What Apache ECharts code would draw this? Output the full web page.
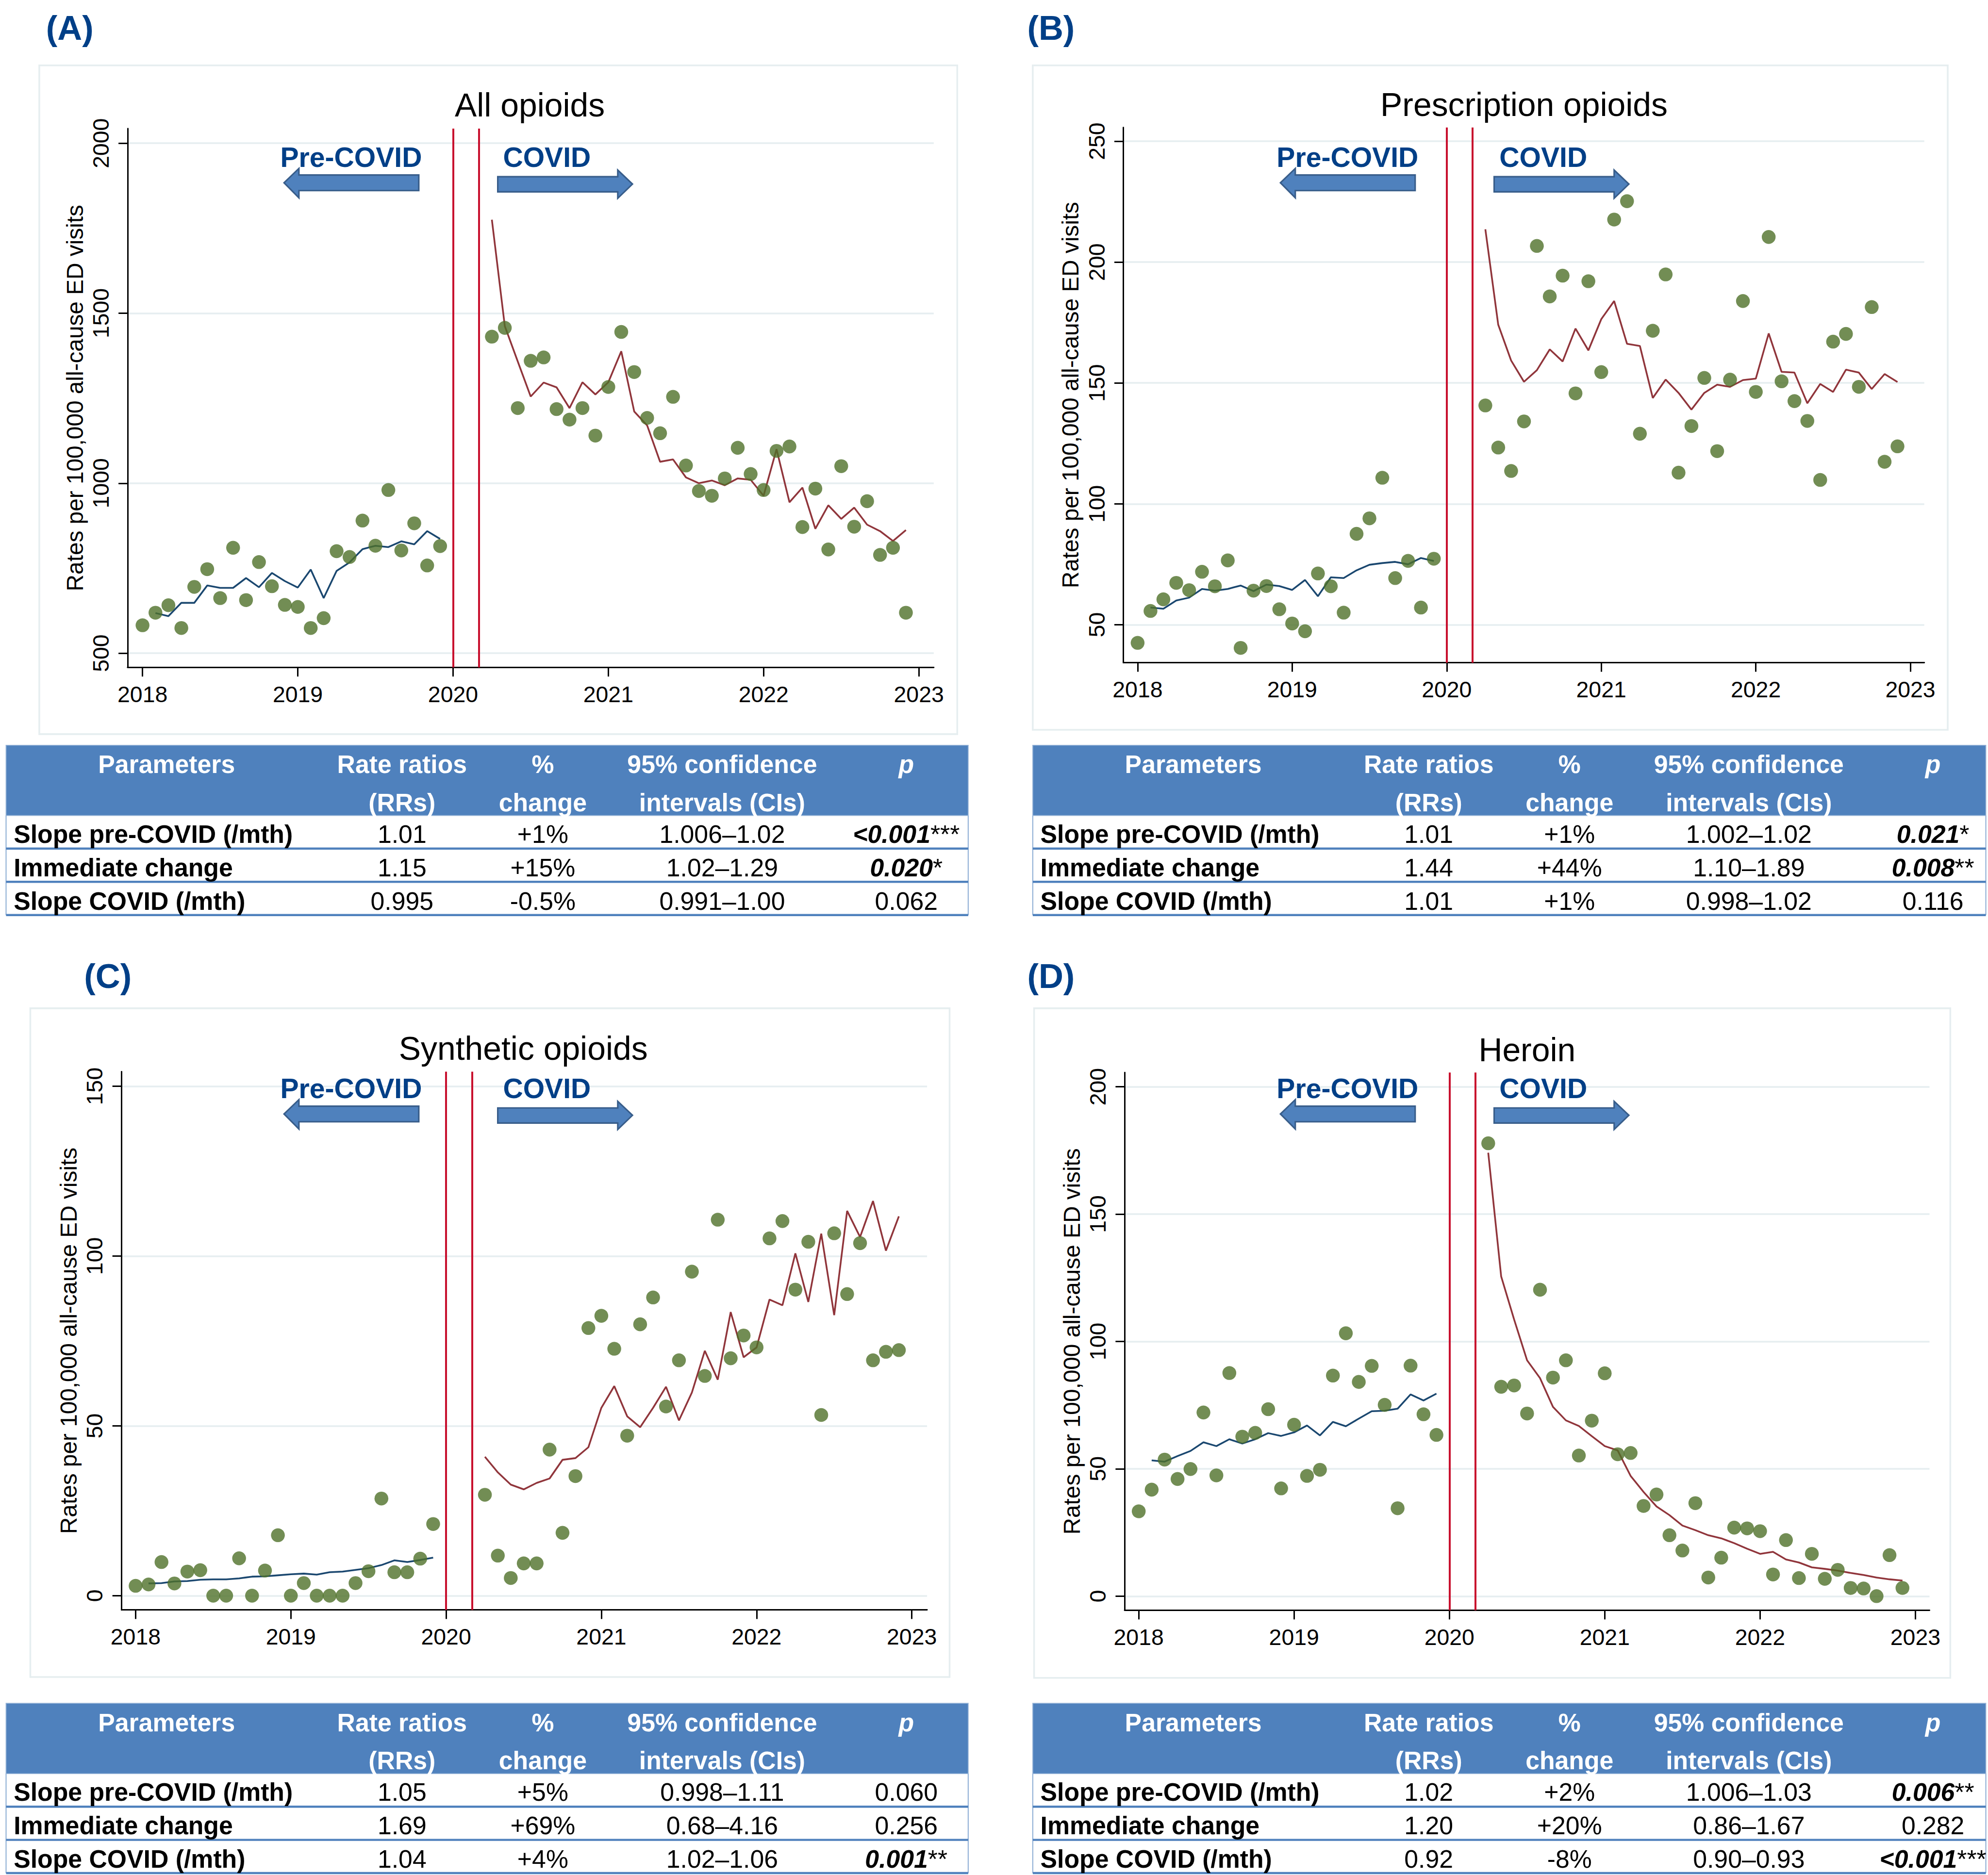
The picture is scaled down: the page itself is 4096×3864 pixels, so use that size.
<!DOCTYPE html>
<html>
<head>
<meta charset="utf-8">
<script src="https://cdn.jsdelivr.net/npm/echarts@6/dist/echarts.min.js"></script>
<style>
html, body { margin: 0; padding: 0; background: #fff; }
#main { width: 4096px; height: 3864px; }
</style>
</head>
<body>
<div id="main"></div>
<script>
var K = 4096 / 4589; // reference px -> page px
function s(v) { return v * K; }
var FONT = '"Liberation Sans", Arial, sans-serif';

// ---- axes / ticks ----
var yearLabels = ['2018', '2019', '2020', '2021', '2022', '2023'];
var yearMonths = [0, 12, 24, 36, 48, 60];
var breakMonths = [24, 26];          // Jan 2020 and Mar 2020
var preStart = 0, fitPreStart = 1, covidStart = 27;

var yTicksA = [500, 1000, 1500, 2000];
var yTicksB = [50, 100, 150, 200, 250];
var yTicksC = [0, 50, 100, 150];
var yTicksD = [0, 50, 100, 150, 200];

// ---- (A) all opioids ----
var allObsPre = [582, 619, 641, 574, 695, 747, 662, 810, 656, 768, 697, 642, 636, 574, 603, 800, 783, 890, 816, 980, 802, 882, 758, 815];
var allFitPre = [618, 609, 648, 648, 699, 692, 692, 721, 694, 736, 712, 693, 746, 662, 742, 767, 806, 816, 812, 829, 820, 859, 836];
var allObsCovid = [1431, 1457, 1221, 1360, 1370, 1218, 1187, 1221, 1140, 1283, 1445, 1327, 1192, 1147, 1254, 1052, 977, 963, 1014, 1104, 1027, 980, 1095, 1108, 871, 984, 805, 1050, 872, 947, 789, 810, 619];
var allFitCovid = [1775, 1462, 1358, 1255, 1296, 1282, 1221, 1297, 1261, 1297, 1388, 1211, 1170, 1063, 1070, 1017, 1000, 1008, 994, 1014, 1010, 963, 1100, 944, 987, 866, 935, 895, 928, 878, 859, 830, 862];

// ---- (B) prescription opioids ----
var rxObsPre = [42.5, 55.7, 60.5, 67.3, 64.3, 71.9, 65.9, 76.6, 40.4, 64.1, 66.0, 56.4, 50.5, 47.3, 71.2, 65.9, 55.0, 87.6, 94.0, 110.8, 69.3, 76.4, 57.1, 77.3];
var rxFitPre = [57.1, 56.6, 60.0, 61.2, 64.8, 64.1, 64.8, 66.2, 63.9, 66.6, 66.0, 64.4, 68.5, 61.8, 69.6, 69.3, 72.5, 74.8, 75.5, 76.0, 75.0, 77.6, 76.4];
var rxObsCovid = [140.7, 123.3, 113.6, 134.1, 206.7, 185.8, 194.4, 145.7, 192.1, 154.5, 217.6, 225.2, 129.0, 171.6, 194.9, 112.9, 132.2, 152.1, 121.8, 151.4, 183.9, 146.3, 210.4, 150.7, 142.5, 134.3, 109.9, 167.1, 170.3, 148.4, 181.4, 117.4, 123.8];
var rxFitCovid = [213.6, 174.1, 159.3, 150.5, 155.3, 163.9, 158.9, 172.5, 163.5, 176.4, 183.9, 166.2, 165.3, 143.8, 151.4, 145.9, 139.0, 145.9, 149.3, 148.4, 151.2, 151.8, 170.5, 154.6, 154.3, 141.6, 149.6, 146.3, 155.5, 154.3, 147.5, 153.7, 150.4];

// ---- (C) synthetic opioids ----
var synObsPre = [2.9, 3.3, 9.9, 3.6, 7.1, 7.5, 0, 0, 11.0, 0, 7.4, 17.8, 0, 3.7, 0, 0, 0, 3.7, 7.2, 28.6, 6.9, 6.9, 10.9, 21.1];
var synFitPre = [3.6, 3.7, 4.2, 4.3, 4.7, 4.8, 4.8, 5.1, 5.6, 5.7, 6.0, 6.3, 6.5, 6.2, 6.9, 7.1, 7.6, 8.1, 9.0, 10.4, 9.9, 10.5, 11.2];
var synObsCovid = [29.7, 11.8, 5.2, 9.5, 9.5, 43.0, 18.5, 35.2, 78.8, 82.4, 72.7, 47.1, 79.9, 87.8, 55.7, 69.3, 95.4, 64.7, 110.7, 69.9, 76.6, 73.1, 105.2, 110.3, 90.1, 104.2, 53.2, 106.7, 88.8, 103.8, 69.3, 71.8, 72.3];
var synFitCovid = [40.9, 36.3, 32.7, 31.3, 33.2, 34.5, 40.0, 40.5, 43.7, 55.3, 61.7, 52.8, 49.6, 55.3, 61.5, 51.6, 59.8, 72.1, 63.6, 83.5, 70.2, 73.1, 87.2, 85.5, 100.8, 86.5, 106.6, 82.6, 113.3, 105.6, 116.2, 101.6, 111.7];

// ---- (D) heroin ----
var herObsPre = [33.3, 41.8, 53.6, 46.0, 49.9, 72.1, 47.4, 87.6, 62.6, 64.1, 73.4, 42.3, 67.3, 47.2, 49.6, 86.6, 103.2, 84.1, 90.4, 75.1, 34.5, 90.5, 71.4, 63.3];
var herFitPre = [53.3, 52.8, 55.0, 57.0, 60.4, 58.9, 61.6, 59.9, 61.6, 64.0, 62.9, 64.3, 67.0, 63.1, 68.4, 66.7, 69.7, 72.6, 72.8, 73.6, 79.2, 76.8, 79.5];
var herObsCovid = [177.8, 82.2, 82.7, 71.7, 120.3, 85.8, 92.6, 55.2, 68.9, 87.5, 55.7, 56.2, 35.4, 39.9, 23.9, 17.9, 36.5, 7.3, 15.1, 26.9, 26.6, 25.5, 8.5, 22.0, 7.1, 16.6, 6.8, 10.3, 3.2, 3.0, 0, 16.1, 3.2];
var herFitCovid = [174.1, 125.5, 108.6, 92.6, 85.6, 74.3, 69.0, 66.8, 62.8, 58.9, 57.2, 47.2, 40.9, 35.2, 31.8, 27.7, 25.9, 23.9, 22.7, 20.8, 18.6, 16.6, 17.4, 14.4, 13.2, 11.3, 10.7, 10.0, 9.1, 8.3, 7.3, 6.6, 6.1];

// ---- tables ----
var tableHead1 = ['Parameters', 'Rate ratios', '%', '95% confidence', 'p'];
var tableHead2 = ['', '(RRs)', 'change', 'intervals (CIs)', ''];
var rowLabels = ['Slope pre-COVID (/mth)', 'Immediate change', 'Slope COVID (/mth)'];

var rrA = ['1.01', '1.15', '0.995'], pctA = ['+1%', '+15%', '-0.5%'], ciA = ['1.006\u20131.02', '1.02\u20131.29', '0.991\u20131.00'];
var pA = ['<0.001', '0.020', '0.062'], starsA = ['***', '*', ''];
var rrB = ['1.01', '1.44', '1.01'], pctB = ['+1%', '+44%', '+1%'], ciB = ['1.002\u20131.02', '1.10\u20131.89', '0.998\u20131.02'];
var pB = ['0.021', '0.008', '0.116'], starsB = ['*', '**', ''];
var rrC = ['1.05', '1.69', '1.04'], pctC = ['+5%', '+69%', '+4%'], ciC = ['0.998\u20131.11', '0.68\u20134.16', '1.02\u20131.06'];
var pC = ['0.060', '0.256', '0.001'], starsC = ['', '', '**'];
var rrD = ['1.02', '1.20', '0.92'], pctD = ['+2%', '+20%', '-8%'], ciD = ['1.006\u20131.03', '0.86\u20131.67', '0.90\u20130.93'];
var pD = ['0.006', '0.282', '<0.001'], starsD = ['**', '', '***'];

var titles = ['All opioids', 'Prescription opioids', 'Synthetic opioids', 'Heroin'];
var letters = ['(A)', '(B)', '(C)', '(D)'];
var yName = 'Rates per 100,000 all-cause ED visits';

// layout in reference pixels
var panels = [
  { obsPre: allObsPre, fitPre: allFitPre, obsCovid: allObsCovid, fitCovid: allFitCovid, ticks: yTicksA,
    grid: [294.5, 297, 2155.4, 1541], xr: [-1.155, 61.15], yr: [458, 2043],
    frame: [90.7, 151, 2209.7, 1695], title: [1223, 243], letter: [161, 64], off: [0, 0],
    table: [14, 1720.7, 2235], rr: rrA, pct: pctA, ci: ciA, p: pA, stars: starsA },
  { obsPre: rxObsPre, fitPre: rxFitPre, obsCovid: rxObsCovid, fitCovid: rxFitCovid, ticks: yTicksB,
    grid: [2593.3, 294.3, 4441.9, 1530], xr: [-1.10, 61.08], yr: [34.3, 255.7],
    frame: [2384, 151, 4496, 1685], title: [3518, 241], letter: [2426, 64], off: [2300, 0],
    table: [2384, 1720.7, 4584], rr: rrB, pct: pctB, ci: ciB, p: pB, stars: starsB },
  { obsPre: synObsPre, fitPre: synFitPre, obsCovid: synObsCovid, fitCovid: synFitCovid, ticks: yTicksC,
    grid: [280.5, 2474.2, 2140, 3717], xr: [-1.09, 61.18], yr: [-4.19, 154.3],
    frame: [70, 2328, 2192, 3872], title: [1208, 2420], letter: [249, 2254], off: [0, 2150],
    table: [14, 3932.7, 2235], rr: rrC, pct: pctC, ci: ciC, p: pC, stars: starsC },
  { obsPre: herObsPre, fitPre: herFitPre, obsCovid: herObsCovid, fitCovid: herFitCovid, ticks: yTicksD,
    grid: [2596, 2476.2, 4454, 3718], xr: [-1.09, 61.09], yr: [-5.58, 205.6],
    frame: [2387, 2328, 4502, 3874], title: [3525, 2424], letter: [2426, 2254], off: [2300, 2150],
    table: [2384, 3932.7, 4584], rr: rrD, pct: pctD, ci: ciD, p: pD, stars: starsD }
];

function pairs(start, vals) {
  return vals.map(function (v, i) { return [start + i, v]; });
}

var grids = [], xAxes = [], yAxes = [], series = [], graphics = [];
var tickFont = s(52), axisW = s(3.3);

panels.forEach(function (P, i) {
  grids.push({
    left: s(P.grid[0]), top: s(P.grid[1]),
    width: s(P.grid[2] - P.grid[0]), height: s(P.grid[3] - P.grid[1])
  });
  xAxes.push({
    type: 'value', gridIndex: i, min: P.xr[0], max: P.xr[1],
    axisLine: { show: true, onZero: false, lineStyle: { color: '#000', width: axisW } },
    axisTick: { show: true, customValues: yearMonths, length: s(21), lineStyle: { color: '#000', width: axisW } },
    axisLabel: {
      customValues: yearMonths, margin: s(36), fontSize: tickFont, fontFamily: FONT, color: '#000',
      formatter: function (v) { return yearLabels[yearMonths.indexOf(v)]; }
    },
    splitLine: { show: false }
  });
  yAxes.push({
    type: 'value', gridIndex: i, min: P.yr[0], max: P.yr[1],
    axisLine: { show: true, onZero: false, lineStyle: { color: '#000', width: axisW } },
    axisTick: { show: true, customValues: P.ticks, length: s(21), lineStyle: { color: '#000', width: axisW } },
    axisLabel: {
      customValues: P.ticks, rotate: 90, margin: s(36), fontSize: tickFont, fontFamily: FONT, color: '#000',
      formatter: function (v) { return String(v); }
    },
    splitLine: { show: true, lineStyle: { color: '#E6EEF0', width: s(4) } },
    name: yName, nameLocation: 'middle', nameGap: s(95), nameRotate: 90,
    nameTextStyle: { fontSize: s(53.5), fontFamily: FONT, color: '#000' }
  });

  series.push({
    type: 'line', xAxisIndex: i, yAxisIndex: i, data: pairs(fitPreStart, P.fitPre),
    showSymbol: false, symbol: 'none', lineStyle: { color: '#1A476F', width: s(4) }, z: 2, silent: true
  });
  series.push({
    type: 'line', xAxisIndex: i, yAxisIndex: i, data: pairs(covidStart, P.fitCovid),
    showSymbol: false, symbol: 'none', lineStyle: { color: '#90353B', width: s(4) }, z: 2, silent: true,
    markLine: {
      silent: true, symbol: ['none', 'none'], label: { show: false },
      lineStyle: { color: '#C8102E', width: s(4.5), type: 'solid' },
      data: breakMonths.map(function (m) { return { xAxis: m }; })
    }
  });
  series.push({
    type: 'scatter', xAxisIndex: i, yAxisIndex: i, data: pairs(preStart, P.obsPre),
    symbolSize: s(32), itemStyle: { color: '#4F7029' }, z: 3
  });
  series.push({
    type: 'scatter', xAxisIndex: i, yAxisIndex: i, data: pairs(covidStart, P.obsCovid),
    symbolSize: s(32), itemStyle: { color: '#4F7029' }, z: 3
  });

  // frame, title, panel letter
  graphics.push({
    type: 'rect', z: -1,
    shape: { x: s(P.frame[0]), y: s(P.frame[1]), width: s(P.frame[2] - P.frame[0]), height: s(P.frame[3] - P.frame[1]) },
    style: { fill: 'none', stroke: '#E6EEF0', lineWidth: s(4) }
  });
  graphics.push({
    type: 'text', x: s(P.title[0]), y: s(P.title[1]), z: 100,
    style: { text: titles[i], fontSize: s(76), fontFamily: FONT, fill: '#000', align: 'center', verticalAlign: 'middle' }
  });
  graphics.push({
    type: 'text', x: s(P.letter[0]), y: s(P.letter[1]), z: 100,
    style: { text: letters[i], fontSize: s(79), fontWeight: 'bold', fontFamily: FONT, fill: '#003F87', align: 'center', verticalAlign: 'middle' }
  });

  // period arrows
  var ox = P.off[0], oy = P.off[1];
  function pt(x, y) { return [s(x + ox), s(y + oy)]; }
  graphics.push({
    type: 'polygon', z: 100,
    shape: { points: [pt(655.7, 422), pt(690, 389), pt(690, 404), pt(966.7, 404), pt(966.7, 440), pt(690, 440), pt(690, 456.7)] },
    style: { fill: '#4F81BD', stroke: '#385D8A', lineWidth: s(3.5) }
  });
  graphics.push({
    type: 'polygon', z: 100,
    shape: { points: [pt(1149, 408), pt(1426, 408), pt(1426, 392.7), pt(1460, 425), pt(1426, 457.7), pt(1426, 443), pt(1149, 443)] },
    style: { fill: '#4F81BD', stroke: '#385D8A', lineWidth: s(3.5) }
  });
  graphics.push({
    type: 'text', x: s(810.5 + ox), y: s(363 + oy), z: 100,
    style: { text: 'Pre-COVID', fontSize: s(64), fontWeight: 'bold', fontFamily: FONT, fill: '#003F87', align: 'center', verticalAlign: 'middle' }
  });
  graphics.push({
    type: 'text', x: s(1262.5 + ox), y: s(363 + oy), z: 100,
    style: { text: 'COVID', fontSize: s(64), fontWeight: 'bold', fontFamily: FONT, fill: '#003F87', align: 'center', verticalAlign: 'middle' }
  });

  // results table
  var L = P.table[0], T = P.table[1], R = P.table[2];
  var colX = [370.5, 914, 1239, 1653, 2078];
  var rowY = [205.3, 282.3, 359.3];
  var rowLines = [238.6, 315.3, 392];
  var fs = s(58);
  graphics.push({
    type: 'rect', shape: { x: s(L), y: s(T), width: s(R - L), height: s(162.3) },
    style: { fill: '#4F81BD', stroke: '#95B3D7', lineWidth: s(2) }
  });
  [L, R].forEach(function (x) {
    graphics.push({ type: 'line', shape: { x1: s(x), y1: s(T + 162.3), x2: s(x), y2: s(T + 392) }, style: { stroke: '#95B3D7', lineWidth: s(2.5) } });
  });
  rowLines.forEach(function (y) {
    graphics.push({ type: 'line', shape: { x1: s(L), y1: s(T + y), x2: s(R), y2: s(T + y) }, style: { stroke: '#4F81BD', lineWidth: s(5) } });
  });
  tableHead1.forEach(function (h, c) {
    graphics.push({
      type: 'text', x: s(L + colX[c]), y: s(T + 44.3),
      style: { text: h, fontSize: fs, fontWeight: 'bold', fontStyle: c === 4 ? 'italic' : 'normal', fontFamily: FONT, fill: '#fff', align: 'center', verticalAlign: 'middle' }
    });
    if (tableHead2[c]) {
      graphics.push({
        type: 'text', x: s(L + colX[c]), y: s(T + 132.3),
        style: { text: tableHead2[c], fontSize: fs, fontWeight: 'bold', fontFamily: FONT, fill: '#fff', align: 'center', verticalAlign: 'middle' }
      });
    }
  });
  rowLabels.forEach(function (lab, r) {
    var y = s(T + rowY[r]);
    graphics.push({
      type: 'text', x: s(L + 17.6), y: y,
      style: { text: lab, fontSize: fs, fontWeight: 'bold', fontFamily: FONT, fill: '#000', align: 'left', verticalAlign: 'middle' }
    });
    [P.rr[r], P.pct[r], P.ci[r]].forEach(function (v, c) {
      graphics.push({
        type: 'text', x: s(L + colX[c + 1]), y: y,
        style: { text: v, fontSize: fs, fontFamily: FONT, fill: '#000', align: 'center', verticalAlign: 'middle' }
      });
    });
    var sig = P.stars[r] !== '';
    graphics.push({
      type: 'text', x: s(L + colX[4]), y: y,
      style: sig ? {
        text: '{b|' + P.p[r] + '}{n|' + P.stars[r] + '}', align: 'center', verticalAlign: 'middle',
        rich: {
          b: { fontSize: fs, fontWeight: 'bold', fontStyle: 'italic', fontFamily: FONT, fill: '#000' },
          n: { fontSize: fs, fontFamily: FONT, fill: '#000' }
        }
      } : { text: P.p[r], fontSize: fs, fontFamily: FONT, fill: '#000', align: 'center', verticalAlign: 'middle' }
    });
  });
});

var chart = echarts.init(document.getElementById('main'), null, { renderer: 'svg' });
chart.setOption({
  animation: false,
  backgroundColor: '#fff',
  grid: grids,
  xAxis: xAxes,
  yAxis: yAxes,
  series: series,
  graphic: { elements: graphics }
});
</script>
</body>
</html>
